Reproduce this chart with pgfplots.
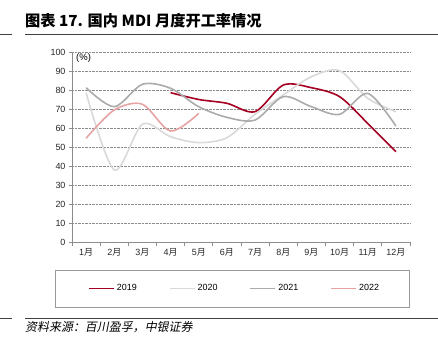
\documentclass[border=0pt]{standalone}
\usepackage{fontspec}
\usepackage{pgfplots}
\pgfplotsset{compat=1.18}
\setmainfont{Liberation Sans}
\newfontfamily\cjk{Noto Sans CJK SC}
\newfontfamily\cjkit{Noto Sans CJK SC}[FakeSlant=0.2]
\definecolor{c19}{HTML}{A50021}
\definecolor{c20}{HTML}{D9D9D9}
\definecolor{c21}{HTML}{ABABAB}
\definecolor{c22}{HTML}{E6A3A3}
\begin{document}
\begin{tikzpicture}
\useasboundingbox (0,0) rectangle (438bp,357bp);
\begin{axis}[
  at={(72bp,115bp)}, anchor=south west,
  scale only axis, width=338bp, height=190bp,
  xmin=0.5, xmax=12.5, ymin=0, ymax=100,
  axis x line*=bottom, axis y line*=left,
  axis line style={draw=black!45, line width=0.8bp},
  xtick={1,...,12},
  xticklabels={1{\cjk 月},2{\cjk 月},3{\cjk 月},4{\cjk 月},5{\cjk 月},6{\cjk 月},7{\cjk 月},8{\cjk 月},9{\cjk 月},10{\cjk 月},11{\cjk 月},12{\cjk 月}},
  major x tick style={draw=none},
  minor xtick={0.5,1.5,...,12.5},
  minor x tick style={draw=black!45, line width=0.8bp},
  minor tick length=4bp,
  ytick={0,10,...,100},
  major y tick style={draw=black!45, line width=0.8bp},
  major tick length=3bp,
  tick align=outside,
  ymajorgrids, major grid style={densely dotted, black!45, line width=0.6bp},
  tick label style={font=\fontsize{9}{10}\selectfont, text=black!85},
  /pgf/number format/assume math mode=true,
  legend style={at={(axis description cs:0.481,-0.245)}, anchor=center, draw=none, fill=none,
    font=\fontsize{9}{10}\selectfont, /tikz/every even column/.append style={column sep=30bp}},
  legend columns=4,
  legend image code/.code={\draw[#1, line width=1.8bp] (0bp,0bp)--(25bp,0bp);},
  every axis plot/.append style={smooth, line width=1.6bp, mark=none},
  clip=false,
]
\addplot[c19] coordinates {(4,78.6) (5,75) (6,73) (7,68.6) (8,82.6) (9,81.2) (10,76.5) (11,62.4) (12,47.5)};
\addlegendentry{2019}
\addplot[c20] coordinates {(1,78.6) (2,37.9) (3,62) (4,55.4) (5,52.3) (6,54.9) (7,67.2) (8,77.4) (9,87) (10,90.2) (11,75.6) (12,68.6)};
\addlegendentry{2020}
\addplot[c21] coordinates {(1,81.2) (2,71.2) (3,83) (4,80.9) (5,71.2) (6,65.6) (7,64.2) (8,76.5) (9,71.2) (10,67.2) (11,78.2) (12,61)};
\addlegendentry{2021}
\addplot[c22] coordinates {(1,54.6) (2,69.5) (3,72.5) (4,58.4) (5,67.7)};
\addlegendentry{2022}
\end{axis}
\node[anchor=west, inner sep=0, font=\fontsize{9.5}{10}\selectfont] at (76bp,299bp) {(\%)};
\node[anchor=base west, inner sep=0] at (25bp,330bp) {\fontsize{15.3}{15}\selectfont\bfseries\cjk 图表 17. 国内 MDI 月度开工率情况};
\draw[line width=1bp, black!75] (0,322bp)--(12bp,322bp) (25bp,322bp)--(438bp,322bp);
\draw[line width=1bp, black!75] (0,38bp)--(12bp,38bp) (25bp,38bp)--(438bp,38bp);
\draw[black!40, line width=0.8bp] (55bp,50bp) rectangle (409bp,87bp);
\node[anchor=base west, inner sep=0] at (25bp,26bp) {\fontsize{12}{12}\selectfont\cjkit 资料来源：百川盈孚，中银证券};
\end{tikzpicture}
\end{document}
